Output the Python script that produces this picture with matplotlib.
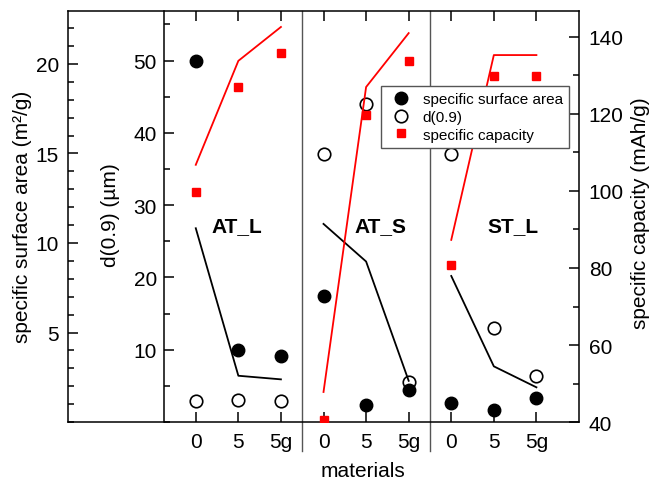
import matplotlib
matplotlib.use('Agg')
import matplotlib.pyplot as plt
from matplotlib.lines import Line2D
from matplotlib.ticker import MultipleLocator, FixedLocator

plt.rcParams['font.family'] = ['Liberation Sans', 'DejaVu Sans']

# categories (three materials, three samples each)
materials = ['AT_L', 'AT_S', 'ST_L']
samples = ['0', '5', '5g']
xpos = [1, 2, 3, 4, 5, 6, 7, 8, 9]
xlabels = samples * 3

# specific surface area (m2/g), filled circles
ssa = [20.17, 4.0, 3.66, 7.06, 0.93, 1.77, 1.04, 0.65, 1.32]
# d(0.9) (um), open circles
d09 = [2.9, 3.0, 2.9, 37.1, 44.0, 5.5, 37.1, 13.0, 6.4]
# black trend line (d axis)
d_line = [26.8, 6.4, 5.9, 27.4, 22.2, 5.7, 20.2, 7.7, 4.8]
# specific capacity (mAh/g), red squares
cap = [99.7, 127.0, 135.8, 40.5, 119.7, 133.8, 80.8, 129.9, 129.9]
# red trend line (capacity axis)
cap_line = [106.8, 133.8, 142.6, 47.8, 127.0, 141.0, 87.3, 135.3, 135.3]

label_x = [1.96, 5.33, 8.46]
dividers = [3.5, 6.5]

fig = plt.figure(figsize=(6.51, 4.85), dpi=100)
ax = fig.add_axes([0.1045, 0.1278, 0.7849, 0.8475])
axd = ax.twinx()
axc = ax.twinx()

ax.set_xlim(-2, 10)
ax.set_ylim(0, 22.96)
axd.set_ylim(0, 56.85)
axc.set_ylim(40, 146.75)

# spines
for a in (ax, axd, axc):
    for s in a.spines.values():
        s.set_linewidth(1.1)
ax.spines['right'].set_visible(False)
for s in ('right', 'top', 'bottom'):
    axd.spines[s].set_visible(False)
axd.spines['left'].set_position(('data', 0.25))
axd.yaxis.tick_left()
for s in ('left', 'top', 'bottom'):
    axc.spines[s].set_visible(False)

# ticks
ax.xaxis.set_major_locator(FixedLocator(xpos))
ax.set_xticklabels(xlabels)
ax.tick_params(axis='x', which='major', top=True, direction='in', length=7,
               width=1.1, labelsize=15, pad=7)
ax.tick_params(axis='x', which='minor', bottom=False, top=False)

ax.yaxis.set_major_locator(FixedLocator([5, 10, 15, 20]))
ax.yaxis.set_minor_locator(MultipleLocator(1))
axd.yaxis.set_major_locator(FixedLocator([10, 20, 30, 40, 50]))
axd.yaxis.set_minor_locator(MultipleLocator(5))
axc.yaxis.set_major_locator(MultipleLocator(20))
axc.yaxis.set_minor_locator(MultipleLocator(10))

ax.tick_params(axis='y', which='major', direction='in', length=7, width=1.1,
               labelsize=15, pad=6.5)
ax.tick_params(axis='y', which='minor', direction='in', length=4, width=1.1)
axd.tick_params(axis='y', which='major', direction='in', length=7, width=1.1,
                labelsize=15, pad=5)
axd.tick_params(axis='y', which='minor', direction='in', length=4, width=1.1)
axc.tick_params(axis='y', which='major', direction='in', length=7, width=1.1,
                labelsize=15, pad=7)
axc.tick_params(axis='y', which='minor', direction='in', length=4, width=1.1)

# group dividers
for xv in dividers:
    ax.axvline(xv, ymin=-0.0706, ymax=1, color='#555555', lw=1, clip_on=False)

# data, each material drawn separately
for g in range(3):
    sl = slice(3 * g, 3 * g + 3)
    xs = xpos[sl]
    ax.plot(xs, ssa[sl], 'o', color='black', ms=9, ls='none')
    axd.plot(xs, d_line[sl], color='black', lw=1.3)
    axd.plot(xs, d09[sl], 'o', mfc='none', mec='black', mew=1.2, ms=9, ls='none')
    axc.plot(xs, cap_line[sl], color='red', lw=1.3)
    axc.plot(xs, cap[sl], 's', color='red', ms=6, ls='none')
    axc.text(label_x[g], 91.0, materials[g], fontsize=15, fontweight='bold',
             ha='center', va='center')

# axis labels
fig.text(23 / 651, 1 - 217 / 485, 'specific surface area (m²/g)', rotation=90,
         ha='center', va='center', fontsize=15)
fig.text(110 / 651, 1 - 215 / 485, 'd(0.9) (µm)', rotation=90,
         ha='center', va='center', fontsize=15)
fig.text(640 / 651, 1 - 213 / 485, 'specific capacity (mAh/g)', rotation=90,
         ha='center', va='center', fontsize=15)
fig.text(363 / 651, 1 - 472 / 485, 'materials', ha='center', va='center',
         fontsize=15)

handles = [
    Line2D([], [], marker='o', color='black', ls='none', ms=9),
    Line2D([], [], marker='o', mfc='none', mec='black', mew=1.2, ls='none', ms=9),
    Line2D([], [], marker='s', color='red', ls='none', ms=6),
]
leg = fig.legend(handles, ['specific surface area', 'd(0.9)', 'specific capacity'],
                 loc='upper right', bbox_to_anchor=(0.874, 0.8206), fontsize=11,
                 frameon=True, fancybox=False, framealpha=1, edgecolor='#555555',
                 borderpad=0.4, handlelength=1.7, handletextpad=0.6,
                 labelspacing=0.25, borderaxespad=0)
leg.get_frame().set_linewidth(1.0)

fig.savefig('out.png', dpi=100)
